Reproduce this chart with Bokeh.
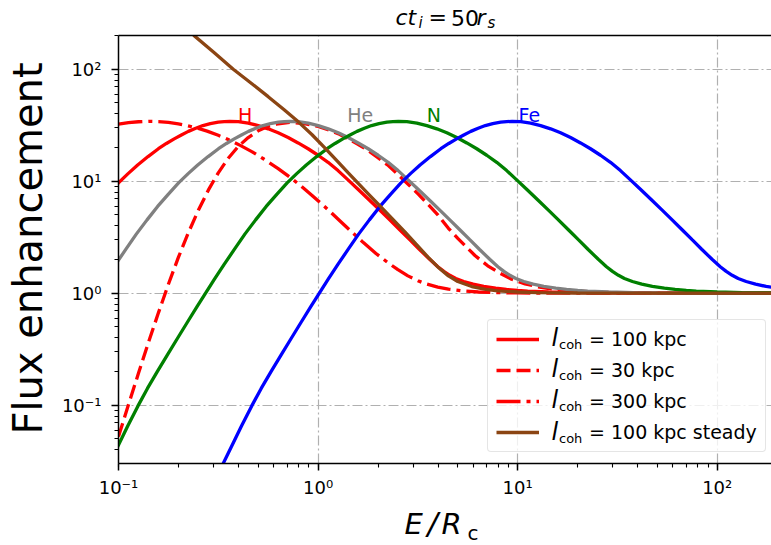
import numpy as np
from bokeh.plotting import figure
from bokeh.layouts import column
from bokeh.models import (Range1d, LogAxis, Legend, LegendItem,
                          CustomJSTickFormatter, FixedTicker, ColumnDataSource)
from bokeh.embed import file_html
from bokeh.resources import INLINE
from bokeh.core.properties import value

# ---------------- data (log10 values) ----------------
# l_coh = 100 kpc: H, He, N and Fe have the same flux profile, shifted in E
element_logF = [-1.555, -1.372, -1.19, -1.008, -0.85, -0.6975, -0.55, -0.404, -0.259, -0.115,
                -0.016, 0.123, 0.262, 0.398, 0.530, 0.655, 0.775, 0.883, 0.985, 1.068,
                1.145, 1.22, 1.29, 1.337, 1.378, 1.413, 1.445, 1.473, 1.497, 1.514,
                1.527, 1.532, 1.535, 1.5316, 1.519, 1.497, 1.468, 1.432, 1.39, 1.342,
                1.29, 1.232, 1.169, 1.095, 1.012, 0.928, 0.828, 0.742, 0.655, 0.567,
                0.478, 0.393, 0.303, 0.237, 0.195, 0.16, 0.132, 0.105, 0.081, 0.061,
                0.045, 0.034, 0.025, 0.019, 0.011, 0.006, 0.0033, 0.0013, 0.0005, 0.0]
H_logE = [-1.90, -1.85, -1.80, -1.748, -1.70, -1.65, -1.60, -1.55, -1.50, -1.45,
          -1.415, -1.365, -1.314, -1.262, -1.211, -1.158, -1.105, -1.052, -1.00, -0.952,
          -0.904, -0.852, -0.80, -0.76, -0.721, -0.685, -0.65, -0.613, -0.577, -0.54,
          -0.50, -0.47, -0.443, -0.40, -0.35, -0.30, -0.25, -0.20, -0.15, -0.10,
          -0.05, 0.00, 0.05, 0.10, 0.15, 0.20, 0.259, 0.309, 0.359, 0.409,
          0.459, 0.507, 0.559, 0.60, 0.63, 0.66, 0.69, 0.73, 0.777, 0.83,
          0.89, 0.944, 1.00, 1.05, 1.155, 1.28, 1.40, 1.60, 1.80, 2.35]
He_logE = [-1.599, -1.549, -1.499, -1.447, -1.399, -1.349, -1.299, -1.249, -1.199, -1.149,
           -1.114, -1.064, -1.013, -0.961, -0.910, -0.857, -0.804, -0.751, -0.699, -0.651,
           -0.603, -0.551, -0.499, -0.459, -0.420, -0.384, -0.349, -0.312, -0.276, -0.239,
           -0.199, -0.169, -0.142, -0.099, -0.049, 0.001, 0.051, 0.101, 0.151, 0.201,
           0.251, 0.301, 0.351, 0.401, 0.451, 0.501, 0.560, 0.610, 0.660, 0.710,
           0.760, 0.808, 0.860, 0.901, 0.931, 0.961, 0.991, 1.031, 1.078, 1.131,
           1.191, 1.245, 1.301, 1.351, 1.456, 1.581, 1.701, 1.901, 2.101, 2.651]
N_logE = [-1.055, -1.005, -0.955, -0.903, -0.855, -0.805, -0.755, -0.705, -0.655, -0.605,
          -0.570, -0.520, -0.469, -0.417, -0.366, -0.313, -0.260, -0.207, -0.155, -0.107,
          -0.059, -0.007, 0.045, 0.085, 0.124, 0.160, 0.195, 0.232, 0.268, 0.305,
          0.345, 0.375, 0.402, 0.445, 0.495, 0.545, 0.595, 0.645, 0.695, 0.745,
          0.795, 0.845, 0.895, 0.945, 0.995, 1.045, 1.104, 1.154, 1.204, 1.254,
          1.304, 1.352, 1.404, 1.445, 1.475, 1.505, 1.535, 1.575, 1.622, 1.675,
          1.735, 1.789, 1.845, 1.895, 2.000, 2.125, 2.245, 2.445, 2.645, 3.195]
Fe_logE = [-0.485, -0.435, -0.385, -0.333, -0.285, -0.235, -0.185, -0.135, -0.085, -0.035,
           0.000, 0.050, 0.101, 0.153, 0.204, 0.257, 0.310, 0.363, 0.415, 0.463,
           0.511, 0.563, 0.615, 0.655, 0.694, 0.730, 0.765, 0.802, 0.838, 0.875,
           0.915, 0.945, 0.972, 1.015, 1.065, 1.115, 1.165, 1.215, 1.265, 1.315,
           1.365, 1.415, 1.465, 1.515, 1.565, 1.615, 1.674, 1.724, 1.774, 1.824,
           1.874, 1.922, 1.974, 2.015, 2.045, 2.075, 2.105, 2.145, 2.192, 2.245,
           2.305, 2.359, 2.415, 2.465, 2.570, 2.695, 2.815, 3.015, 3.215, 3.765]

# H, l_coh = 30 kpc
H30_logE = [-1.0, -0.951, -0.90, -0.85, -0.80, -0.75, -0.70, -0.65, -0.60, -0.55,
            -0.50, -0.45, -0.40, -0.35, -0.30, -0.25, -0.20, -0.14, -0.07, 0.0,
            0.05, 0.10, 0.15, 0.20, 0.25, 0.30, 0.352, 0.40, 0.45, 0.502,
            0.55, 0.60, 0.653, 0.70, 0.75, 0.786, 0.85, 0.903, 0.97, 1.037,
            1.10, 1.15, 1.22, 1.3, 1.4, 1.5, 1.7, 2.3]
H30_logF = [-1.28, -1.0, -0.715, -0.44, -0.175, 0.08, 0.32, 0.54, 0.74, 0.92,
            1.075, 1.205, 1.31, 1.39, 1.45, 1.49, 1.513, 1.525, 1.515, 1.49,
            1.46, 1.425, 1.38, 1.33, 1.275, 1.21, 1.14, 1.06, 0.975, 0.885,
            0.795, 0.70, 0.58, 0.49, 0.40, 0.337, 0.245, 0.1875, 0.125, 0.084,
            0.058, 0.044, 0.03, 0.018, 0.009, 0.0045, 0.0012, 0.0]

# H, l_coh = 300 kpc
H300_logE = [-1.0, -0.95, -0.9, -0.85, -0.80, -0.75, -0.70, -0.656, -0.60, -0.556,
             -0.50, -0.45, -0.39, -0.33, -0.27, -0.2, -0.14, -0.089, -0.03, 0.035,
             0.11, 0.17, 0.227, 0.29, 0.352, 0.40, 0.45, 0.50, 0.536, 0.60,
             0.653, 0.72, 0.803, 0.9, 1.0, 1.2, 2.3]
H300_logF = [1.51, 1.523, 1.531, 1.535, 1.533, 1.525, 1.512, 1.497, 1.472, 1.447,
             1.41, 1.372, 1.32, 1.262, 1.196, 1.113, 1.035, 0.962, 0.873, 0.77,
             0.645, 0.545, 0.452, 0.355, 0.27, 0.21, 0.155, 0.112, 0.087, 0.055,
             0.036, 0.021, 0.011, 0.005, 0.0025, 0.0007, 0.0]

# H, l_coh = 100 kpc steady
steady_logE = [-0.75, -0.621, -0.52, -0.425, -0.33, -0.25, -0.17, -0.099, -0.03, 0.035,
               0.101, 0.15, 0.2, 0.255, 0.31, 0.37, 0.436, 0.49, 0.552, 0.60,
               0.653, 0.70, 0.77, 0.84, 0.9, 1.0, 1.1, 1.3, 1.6, 2.3]
steady_logF = [2.50, 2.30, 2.148, 2.0, 1.868, 1.755, 1.638, 1.53, 1.415, 1.295,
               1.17, 1.076, 0.983, 0.881, 0.779, 0.668, 0.546, 0.44, 0.32, 0.235,
               0.155, 0.105, 0.06, 0.035, 0.022, 0.011, 0.006, 0.002, 0.0005, 0.0]

element_names = ["H", "He", "N", "Fe"]
legend_values = ["100 kpc", "30 kpc", "300 kpc", "100 kpc steady"]

W, H = 771, 545

# ---------------- main figure ----------------
p = figure(width=W, height=H, x_axis_type="log", y_axis_type="log",
           x_range=Range1d(0.1, 187), y_range=Range1d(0.0302, 200),
           output_backend="svg", toolbar_location=None,
           min_border_left=118, min_border_right=0, min_border_top=35,
           min_border_bottom=82)
p.outline_line_color = None
p.background_fill_color = "white"
p.border_fill_color = "white"

sup_code = """
const sup = {"-": "\\u207b", "0": "\\u2070", "1": "\\u00b9", "2": "\\u00b2", "3": "\\u00b3",
             "4": "\\u2074", "5": "\\u2075", "6": "\\u2076", "7": "\\u2077", "8": "\\u2078", "9": "\\u2079"};
const e = Math.round(Math.log10(tick));
let s = "";
for (const ch of String(e)) { s += sup[ch]; }
return "10" + s;
"""

for ax in (p.xaxis[0], p.yaxis[0]):
    ax.formatter = CustomJSTickFormatter(code=sup_code)
    ax.axis_line_color = "black"
    ax.axis_line_width = 1.5
    ax.major_tick_line_color = "black"
    ax.major_tick_line_width = 1.5
    ax.major_tick_out = 7
    ax.major_tick_in = 0
    ax.minor_tick_line_color = "black"
    ax.minor_tick_line_width = 1.1
    ax.minor_tick_out = 4
    ax.minor_tick_in = 0
    ax.major_label_text_font = "DejaVu Sans"
    ax.major_label_text_font_size = "18px"
    ax.major_label_text_color = "black"
p.xaxis[0].major_label_standoff = 6
p.yaxis[0].major_label_standoff = 10

top_axis = LogAxis(ticker=FixedTicker(ticks=[], minor_ticks=[]), axis_line_color="black",
                   axis_line_width=1.5, major_tick_out=0, major_tick_in=0,
                   minor_tick_out=0, minor_tick_in=0, major_label_standoff=0)
p.add_layout(top_axis, "above")

for g in (p.xgrid[0], p.ygrid[0]):
    g.grid_line_color = "#b0b0b0"
    g.grid_line_width = 1.2
    g.grid_line_dash = "10 3 2 3"

LW = 3.3


def src(lx, ly):
    return ColumnDataSource(dict(x=10 ** np.array(lx, dtype=float),
                                 y=10 ** np.array(ly, dtype=float)))


r_H = p.line("x", "y", source=src(H_logE, element_logF), line_color="red", line_width=LW)
r_30 = p.line("x", "y", source=src(H30_logE, H30_logF), line_color="red", line_width=LW,
              line_dash="14 6")
r_300 = p.line("x", "y", source=src(H300_logE, H300_logF), line_color="red", line_width=LW,
               line_dash="24 6 4 6")
r_He = p.line("x", "y", source=src(He_logE, element_logF), line_color="#808080", line_width=LW)
r_N = p.line("x", "y", source=src(N_logE, element_logF), line_color="#008000", line_width=LW)
r_Fe = p.line("x", "y", source=src(Fe_logE, element_logF), line_color="#0000ff", line_width=LW)
r_st = p.line("x", "y", source=src(steady_logE, steady_logF), line_color="#8b4513",
              line_width=LW)

# element names above the peaks
p.text(x=[0.4315, 1.627, 3.80, 11.45], y=[39.4] * 4, text=element_names,
       text_color=["red", "#808080", "#008000", "#0000ff"],
       text_font=value("DejaVu Sans"), text_font_size="19px",
       text_align="center", text_baseline="alphabetic")

legend = Legend(items=[LegendItem(label="= " + v, renderers=[r])
                       for v, r in zip(legend_values, [r_H, r_30, r_300, r_st])],
                location=(369, 11), orientation="vertical", padding=8, spacing=9, margin=0,
                glyph_width=43, glyph_height=22, label_height=22, label_standoff=50,
                label_text_font="DejaVu Sans", label_text_font_size="19px",
                label_text_color="black", border_line_color="#cccccc",
                border_line_width=1, background_fill_alpha=0.8)
try:
    legend.border_radius = 4
except AttributeError:
    pass
p.add_layout(legend)

# ---------------- transparent overlay for rich text outside the frame ----------------
ov = figure(width=W, height=H, x_range=Range1d(0, W), y_range=Range1d(H, 0),
            x_axis_location=None, y_axis_location=None, toolbar_location=None,
            output_backend="svg", min_border=0, outline_line_color=None,
            background_fill_color=None, border_fill_color=None)
ov.grid.visible = False
ov.margin = (-H, 0, 0, 0)
for fig in (p, ov):
    try:
        fig.frame_align = False
    except AttributeError:
        pass

BASE = 0.36  # offset of the rendered baseline below the anchor, in em


def txt(s, px, py, size, style="normal", angle=0.0, align="left"):
    if angle:
        px = px - BASE * size
    else:
        py = py - BASE * size
    ov.text(x=[px], y=[py], text=[s], text_font=value("DejaVu Sans"),
            text_font_size=f"{size}px", text_font_style=style, text_color="black",
            text_align=align, text_baseline="alphabetic", angle=angle)


# legend rich text: l_coh
for row_c in [339, 370, 401.5, 433]:
    txt("l", 551, row_c + 7, 24, "italic")
    txt("coh", 558.5, row_c + 9.5, 13)

# title  ct_i = 50 r_s
txt("ct", 395, 25, 22, "italic")
txt("i", 418, 27.5, 15, "italic")
txt("=", 428, 25, 22)
txt("50", 450.5, 25, 22)
txt("r", 476, 25, 22, "italic")
txt("s", 487, 27.5, 15, "italic")

# x label  E/R_c
txt("E", 404, 534, 29, "italic")
txt("/", 427, 534, 31, "italic")
txt("R", 441, 534, 29, "italic")
txt("c", 467, 539.5, 20)

# y label
txt("Flux enhancement", 41.7, 248, 40, angle=np.pi / 2, align="center")

layout = column(p, ov, spacing=0)
open("out.html", "w").write(file_html(layout, INLINE))
